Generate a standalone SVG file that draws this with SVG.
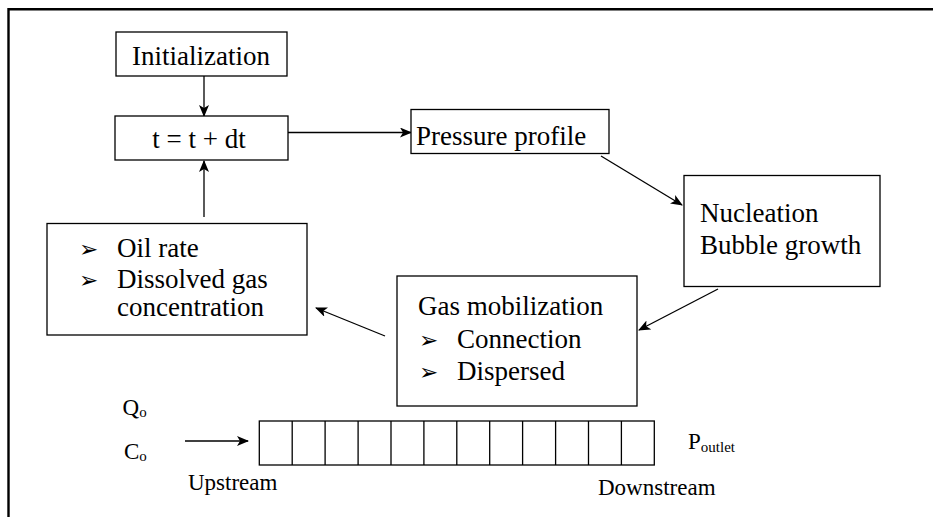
<svg xmlns="http://www.w3.org/2000/svg" width="933" height="517" viewBox="0 0 933 517">
<style>
.box{fill:#fff;stroke:#000;stroke-width:1.3}
.lbl{font-family:'Liberation Serif','Times New Roman',Times,serif;font-size:27px;fill:#000}
.small{font-family:'Liberation Serif','Times New Roman',Times,serif;font-size:23px;fill:#000}
.sub{font-size:15px}
.bul{font-family:'DejaVu Sans',sans-serif;font-size:23px;fill:#000}
.c{stroke:#000;stroke-width:1.3;fill:none;marker-end:url(#ah)}
.cell{fill:none;stroke:#000;stroke-width:1.3}
</style>
<defs>
<marker id="ah" viewBox="0 0 12 10" refX="11" refY="5" markerWidth="12" markerHeight="10" markerUnits="userSpaceOnUse" orient="auto">
<path d="M0,0 L12,5 L0,10 L3,5 z" fill="#000"/>
</marker>
</defs>
<rect width="933" height="517" fill="#fff"/>
<g id="frame">
<path d="M8.5,517 L8.5,9.3 L933,9.3" fill="none" stroke="#000" stroke-width="2.4"/>
</g>
<g id="connectors">
<line class="c" x1="204" y1="76" x2="204" y2="116"/>
<line class="c" x1="288" y1="132.5" x2="411" y2="132.5"/>
<line class="c" x1="601" y1="156" x2="682" y2="205"/>
<line class="c" x1="718" y1="289" x2="639" y2="330"/>
<line class="c" x1="385" y1="336" x2="316" y2="308"/>
<line class="c" x1="204" y1="217" x2="204" y2="161"/>
<line class="c" x1="185" y1="441" x2="248" y2="441"/>
</g>
<g id="initialization">
<rect class="box" x="116" y="32" width="171" height="44"/>
<text class="lbl" x="132" y="65">Initialization</text>
</g>
<g id="timestep">
<rect class="box" x="115" y="116" width="173" height="44"/>
<text class="lbl" x="199" y="148" text-anchor="middle">t = t + dt</text>
</g>
<g id="pressure">
<rect class="box" x="411" y="109.5" width="198" height="44"/>
<text class="lbl" x="416" y="145">Pressure profile</text>
</g>
<g id="nucleation">
<rect class="box" x="684" y="175.5" width="196" height="111"/>
<text class="lbl" x="700" y="222">Nucleation</text>
<text class="lbl" x="700" y="254">Bubble growth</text>
</g>
<g id="gas">
<rect class="box" x="397" y="276" width="240" height="130"/>
<text class="lbl" x="418" y="315">Gas mobilization</text>
<text class="bul" x="419" y="348">➢</text>
<text class="lbl" x="457" y="348">Connection</text>
<text class="bul" x="419" y="380">➢</text>
<text class="lbl" x="457" y="380">Dispersed</text>
</g>
<g id="oil">
<rect class="box" x="47" y="223.5" width="260" height="111.5"/>
<text class="bul" x="79" y="257">➢</text>
<text class="lbl" x="117" y="257">Oil rate</text>
<text class="bul" x="79" y="288">➢</text>
<text class="lbl" x="117" y="288">Dissolved gas</text>
<text class="lbl" x="117" y="316">concentration</text>
</g>
<g id="grid">
<rect class="cell" x="259.3" y="421" width="395" height="44"/>
<path class="cell" d="M292.2,421V465M325.1,421V465M358.1,421V465M391,421V465M423.9,421V465M456.8,421V465M489.7,421V465M522.6,421V465M555.6,421V465M588.5,421V465M621.4,421V465"/>
</g>
<g id="labels">
<text class="small" x="122.5" y="415">Q<tspan class="sub" dy="2">o</tspan></text>
<text class="small" x="124" y="459">C<tspan class="sub" dy="2">o</tspan></text>
<text class="small" x="188" y="490">Upstream</text>
<text class="small" x="688" y="449">P<tspan class="sub" dy="3">outlet</tspan></text>
<text class="small" x="598" y="495">Downstream</text>
</g>
</svg>
